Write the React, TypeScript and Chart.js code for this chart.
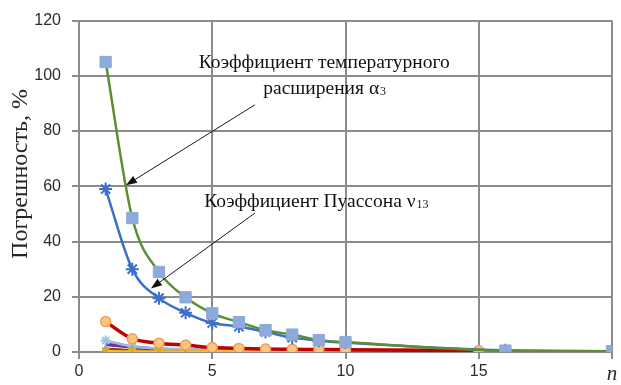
import React, { useEffect, useRef } from 'react';
import { Chart, registerables } from 'chart.js';

Chart.register(...registerables);

// ---- data ----
const xMain = [1, 2, 3, 4, 5, 6, 7, 8, 9, 10, 16, 20];
const alpha3 = [105, 48.5, 29, 19.8, 14, 10.8, 7.9, 6.3, 4.3, 3.6, 0.5, 0.3];
const nu13 = [59, 30, 19.5, 14.2, 10.5, 9.2, 7.3, 5.2, 4.1, 3.4, 0.6, 0.3];

const xSmall = [1, 2, 3, 4, 5, 6, 7, 8, 9, 10];
const xRed = [1, 2, 3, 4, 5, 6, 7, 8, 9, 10, 15];
const redVals = [11, 4.8, 3.2, 2.5, 1.6, 1.3, 1.1, 1.0, 0.9, 0.8, 0.5];
const yellowVals = [0.3, 0.3, 0.3, 0.3, 0.3, 0.3, 0.3, 0.3, 0.3, 0.3];
const grayVals = [0, 0, 0, 0, 0, 0, 0, 0, 0, 0];
const lightBlueVals = [4.2, 2.0, 1.3, 1.0, 0.8, 0.6, 0.5, 0.4, 0.4, 0.3];
const purpleVals = [2.8, 1.8, 1.0, 0.7, 0.5, 0.4, 0.3, 0.3, 0.3, 0.3];
const brownVals = [1.2, 0.6, 0.4, 0.3, 0.2, 0.2, 0.2, 0.2, 0.2, 0.2];

const xTickValues = [0, 5, 10, 15, 20];
const xTickLabels = ['0', '5', '10', '15', 'n'];
const yTickValues = [0, 20, 40, 60, 80, 100, 120];

const yTitle = 'Погрешность, %';
const noteAlphaLine1 = 'Коэффициент температурного';
const noteAlphaLine2 = 'расширения α';
const noteAlphaSub = '3';
const noteNu = 'Коэффициент Пуассона ν';
const noteNuSub = '13';

// annotation anchors in data coordinates
const noteAlphaAt = { x: 9.2, y: 103 };
const arrowAlpha = { from: { x: 6.6, y: 89.5 }, to: { x: 1.76, y: 60.4 } };
const noteNuAt = { x: 4.7, y: 52.5 };
const arrowNu = { from: { x: 6.6, y: 50.3 }, to: { x: 2.7, y: 23 } };

const pts = (xs: number[], ys: number[]) => xs.map((x, i) => ({ x, y: ys[i] }));

const SERIF = '"Liberation Serif", "Times New Roman", serif';
const SANS = '"Liberation Sans", Arial, sans-serif';

function drawArrow(ctx: CanvasRenderingContext2D, x1: number, y1: number, x2: number, y2: number) {
  const ang = Math.atan2(y2 - y1, x2 - x1);
  const head = 11;
  const hw = 4;
  const bx = x2 - head * Math.cos(ang);
  const by = y2 - head * Math.sin(ang);
  ctx.beginPath();
  ctx.moveTo(x1, y1);
  ctx.lineTo(bx, by);
  ctx.stroke();
  ctx.beginPath();
  ctx.moveTo(x2, y2);
  ctx.lineTo(bx + hw * Math.sin(ang), by - hw * Math.cos(ang));
  ctx.lineTo(bx - hw * Math.sin(ang), by + hw * Math.cos(ang));
  ctx.closePath();
  ctx.fill();
}

const annotationPlugin = {
  id: 'annotations',
  afterDatasetsDraw(chart: any) {
    const { ctx, scales } = chart;
    const xs = scales.x;
    const ys = scales.y;
    ctx.save();
    ctx.fillStyle = '#111';
    ctx.strokeStyle = '#1a1a1a';
    ctx.lineWidth = 1;
    ctx.textBaseline = 'alphabetic';

    const big = `19.5px ${SERIF}`;
    const small = `12px ${SERIF}`;

    // alpha note (centered, two lines)
    const cx = xs.getPixelForValue(noteAlphaAt.x);
    const cy = ys.getPixelForValue(noteAlphaAt.y);
    ctx.font = big;
    ctx.textAlign = 'center';
    ctx.fillText(noteAlphaLine1, cx, cy);
    ctx.textAlign = 'left';
    const w2 = ctx.measureText(noteAlphaLine2).width;
    ctx.font = small;
    const w2s = ctx.measureText(noteAlphaSub).width;
    const start2 = cx - (w2 + w2s) / 2;
    ctx.font = big;
    ctx.fillText(noteAlphaLine2, start2, cy + 26);
    ctx.font = small;
    ctx.fillText(noteAlphaSub, start2 + w2 + 1, cy + 27);

    // nu note
    const nx = xs.getPixelForValue(noteNuAt.x);
    const ny = ys.getPixelForValue(noteNuAt.y);
    ctx.font = big;
    ctx.fillText(noteNu, nx, ny);
    const wn = ctx.measureText(noteNu).width;
    ctx.font = small;
    ctx.fillText(noteNuSub, nx + wn + 1, ny + 1);

    // arrows
    drawArrow(ctx,
      xs.getPixelForValue(arrowAlpha.from.x), ys.getPixelForValue(arrowAlpha.from.y),
      xs.getPixelForValue(arrowAlpha.to.x), ys.getPixelForValue(arrowAlpha.to.y));
    drawArrow(ctx,
      xs.getPixelForValue(arrowNu.from.x), ys.getPixelForValue(arrowNu.from.y),
      xs.getPixelForValue(arrowNu.to.x), ys.getPixelForValue(arrowNu.to.y));

    // y axis title
    ctx.translate(21, 174);
    ctx.rotate(-Math.PI / 2);
    ctx.font = `24px ${SERIF}`;
    ctx.textAlign = 'center';
    ctx.textBaseline = 'middle';
    ctx.fillStyle = '#262626';
    ctx.fillText(yTitle, 0, 0);
    ctx.restore();
  },
};

export default function App() {
  const ref = useRef<HTMLCanvasElement | null>(null);

  useEffect(() => {
    if (!ref.current) return;
    const gridColor = '#8c8c8c';
    const chart = new Chart(ref.current, {
      type: 'line',
      data: {
        datasets: [
          {
            label: 'alpha3',
            data: pts(xMain, alpha3),
            borderColor: '#5a8f32',
            borderWidth: 2.5,
            pointStyle: 'rect',
            pointRadius: 8,
            pointBackgroundColor: '#8eaadb',
            pointBorderColor: '#8eaadb',
            pointBorderWidth: 1,
            cubicInterpolationMode: 'monotone',
          },
          {
            label: 'nu13',
            data: pts(xMain, nu13),
            borderColor: '#3c6fc7',
            borderWidth: 2.5,
            pointStyle: 'star',
            pointRadius: 6.5,
            pointBackgroundColor: '#3c6fc7',
            pointBorderColor: '#3c6fc7',
            pointBorderWidth: 2,
            cubicInterpolationMode: 'monotone',
          },
          {
            label: 'red',
            data: pts(xRed, redVals),
            borderColor: '#c00000',
            borderWidth: 3.5,
            pointStyle: 'circle',
            pointRadius: 5,
            pointBackgroundColor: '#fcc480',
            pointBorderColor: '#f0a050',
            pointBorderWidth: 1.5,
            cubicInterpolationMode: 'monotone',
          },
          {
            label: 'yellow',
            data: pts(xSmall, yellowVals),
            borderColor: '#ffc000',
            borderWidth: 2,
            pointStyle: 'crossRot',
            pointRadius: 5,
            pointBackgroundColor: '#ffc000',
            pointBorderColor: '#e6ac00',
            pointBorderWidth: 2,
          },
          {
            label: 'gray',
            data: pts(xSmall, grayVals),
            borderColor: '#a5a5a5',
            borderWidth: 2,
            pointStyle: 'triangle',
            pointRadius: 6,
            pointBackgroundColor: '#a5a5a5',
            pointBorderColor: '#a5a5a5',
          },
          {
            label: 'lightblue',
            data: pts(xSmall, lightBlueVals),
            borderColor: '#9fb8d8',
            borderWidth: 2.5,
            pointStyle: 'star',
            pointRadius: 5,
            pointBackgroundColor: '#9dc3e6',
            pointBorderColor: '#9dc3e6',
            pointBorderWidth: 2,
            cubicInterpolationMode: 'monotone',
          },
          {
            label: 'purple',
            data: pts(xSmall, purpleVals),
            borderColor: '#7030a0',
            borderWidth: 3.5,
            pointRadius: 0,
            cubicInterpolationMode: 'monotone',
          },
          {
            label: 'brown',
            data: pts(xSmall, brownVals),
            borderColor: '#8b4a1c',
            borderWidth: 2.5,
            pointRadius: 0,
            cubicInterpolationMode: 'monotone',
          },
        ],
      },
      options: {
        animation: false,
        responsive: false,
        maintainAspectRatio: false,
        layout: { padding: { top: 17, right: 8, left: 0, bottom: 0 } },
        plugins: {
          legend: { display: false },
          tooltip: { enabled: false },
        },
        scales: {
          x: {
            type: 'linear',
            min: 0,
            max: 20,
            afterFit: (s: any) => { s.height = 33; },
            afterBuildTicks: (s: any) => { s.ticks = xTickValues.map((v) => ({ value: v })); },
            grid: { color: gridColor, lineWidth: 2, tickLength: 7, drawTicks: true },
            border: { color: gridColor, width: 2 },
            ticks: {
              padding: 3,
              color: '#2b2b2b',
              maxRotation: 0,
              autoSkip: false,
              callback: (v: any) => {
                const i = xTickValues.indexOf(Number(v));
                return i >= 0 ? xTickLabels[i] : '';
              },
              font: (c: any) =>
                c.tick && c.tick.value === 20
                  ? { family: SERIF, size: 21, style: 'italic' }
                  : { family: SANS, size: 16 },
            },
          },
          y: {
            min: 0,
            max: 120,
            afterFit: (s: any) => { s.width = 79; },
            afterBuildTicks: (s: any) => { s.ticks = yTickValues.map((v) => ({ value: v })); },
            grid: { color: gridColor, lineWidth: 2, tickLength: 7, drawTicks: true },
            border: { color: gridColor, width: 2 },
            ticks: {
              padding: 11,
              color: '#2b2b2b',
              font: { family: SANS, size: 16 },
            },
          },
        },
      },
      plugins: [annotationPlugin],
    } as any);
    return () => chart.destroy();
  }, []);

  return (
    <div style={{ position: 'fixed', left: 0, top: 0, width: 621, height: 385, background: '#fff' }}>
      <canvas ref={ref} width={621} height={385} style={{ width: 621, height: 385 }} />
    </div>
  );
}
